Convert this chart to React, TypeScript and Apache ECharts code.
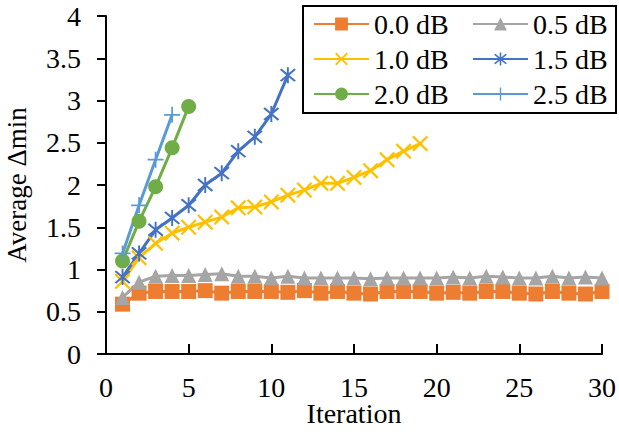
import React, { useEffect, useRef } from "react";
import * as echarts from "echarts";

const iterations = [1, 2, 3, 4, 5, 6, 7, 8, 9, 10, 11, 12, 13, 14, 15, 16, 17, 18, 19, 20, 21, 22, 23, 24, 25, 26, 27, 28, 29, 30];

const db00 = [0.59, 0.72, 0.74, 0.74, 0.74, 0.75, 0.72, 0.74, 0.74, 0.74, 0.73, 0.75, 0.72, 0.74, 0.72, 0.71, 0.74, 0.74, 0.74, 0.72, 0.73, 0.72, 0.74, 0.74, 0.72, 0.71, 0.74, 0.72, 0.71, 0.74];
const db05 = [0.67, 0.85, 0.92, 0.93, 0.93, 0.94, 0.95, 0.92, 0.92, 0.9, 0.92, 0.9, 0.9, 0.9, 0.9, 0.89, 0.9, 0.9, 0.9, 0.9, 0.91, 0.9, 0.92, 0.91, 0.9, 0.9, 0.92, 0.9, 0.91, 0.9];
const db10 = [0.86, 1.14, 1.31, 1.43, 1.5, 1.56, 1.62, 1.73, 1.74, 1.8, 1.88, 1.94, 2.02, 2.02, 2.09, 2.17, 2.3, 2.4, 2.49];
const db15 = [0.91, 1.19, 1.47, 1.61, 1.76, 2.0, 2.14, 2.4, 2.57, 2.84, 3.3];
const db20 = [1.1, 1.57, 1.98, 2.44, 2.93];
const db25 = [1.19, 1.76, 2.3, 2.83];

const seriesNames = ["0.0 dB", "0.5 dB", "1.0 dB", "1.5 dB", "2.0 dB", "2.5 dB"];
const yTicks = [0, 0.5, 1, 1.5, 2, 2.5, 3, 3.5, 4];
const xTicks = [0, 5, 10, 15, 20, 25, 30];

const FONT = "Liberation Serif";
const FS = 28;

const X_PATH = "path://M1,0 L5,4 L9,0 L10,1 L6,5 L10,9 L9,10 L5,6 L1,10 L0,9 L4,5 L0,1 Z";
const PLUS_PATH = "path://M4.45,0 L5.55,0 L5.55,4.45 L10,4.45 L10,5.55 L5.55,5.55 L5.55,10 L4.45,10 L4.45,5.55 L0,5.55 L0,4.45 L4.45,4.45 Z";
const STAR_PATH = "path://M1,0 L5,4 L9,0 L10,1 L6,5 L10,9 L9,10 L5,6 L1,10 L0,9 L4,5 L0,1 Z M4.4,-1 L5.6,-1 L5.6,11 L4.4,11 Z";

function pairs(vals: number[]) {
  return vals.map((v, i) => [iterations[i], v]);
}

export default function App() {
  const ref = useRef<HTMLDivElement>(null);
  useEffect(() => {
    if (!ref.current) return;
    const chart = echarts.init(ref.current, undefined, { renderer: "svg" });
    const mk = (name: string, data: number[], color: string, symbol: string, size: number) => ({
      name,
      type: "line",
      data: pairs(data),
      symbol,
      symbolSize: size,
      showAllSymbol: true,
      lineStyle: { color, width: 3 },
      itemStyle: { color },
      z: 2,
    });
    const legendCommon = {
      orient: "vertical",
      itemWidth: 55,
      itemHeight: 16,
      itemGap: 7,
      textStyle: { fontFamily: FONT, fontSize: FS, color: "#000" },
      padding: 0,
      selectedMode: false,
    };
    chart.setOption({
      animation: false,
      backgroundColor: "#fff",
      grid: { left: 106, right: 17, top: 16, bottom: 78, outerBoundsMode: "none", containLabel: false },
      legend: [
        { ...legendCommon, left: 313, top: 10, data: [seriesNames[0], seriesNames[2], seriesNames[4]] },
        { ...legendCommon, left: 472, top: 10, data: [seriesNames[1], seriesNames[3], seriesNames[5]] },
      ],
      graphic: [
        {
          type: "rect",
          shape: { x: 303, y: 6, width: 313, height: 107 },
          style: { fill: "none", stroke: "#000", lineWidth: 2 },
          z: 0,
        },
      ],
      xAxis: {
        type: "value",
        min: xTicks[0],
        max: xTicks[xTicks.length - 1],
        interval: 5,
        name: "Iteration",
        nameLocation: "middle",
        nameGap: 46,
        nameMoveOverlap: false,
        nameTextStyle: { fontFamily: FONT, fontSize: FS, color: "#000", lineHeight: 26 },
        axisLine: { show: true, lineStyle: { color: "#000", width: 2 } },
        axisTick: { show: true, inside: true, length: 10, lineStyle: { color: "#000", width: 2 } },
        axisLabel: { fontFamily: FONT, fontSize: FS, color: "#000", margin: 21, lineHeight: 24 },
        splitLine: { show: false },
      },
      yAxis: {
        type: "value",
        min: yTicks[0],
        max: yTicks[yTicks.length - 1],
        interval: 0.5,
        name: "Average Δmin",
        nameLocation: "middle",
        nameGap: 76,
        nameMoveOverlap: false,
        nameTextStyle: { fontFamily: FONT, fontSize: 27, color: "#000" },
        axisLine: { show: true, lineStyle: { color: "#000", width: 2 } },
        axisTick: { show: true, inside: false, length: 9, lineStyle: { color: "#000", width: 2 } },
        axisLabel: { fontFamily: FONT, fontSize: FS, color: "#000", margin: 25 },
        splitLine: { show: false },
      },
      series: [
        mk(seriesNames[0], db00, "#ED7D31", "rect", 15),
        mk(seriesNames[1], db05, "#A5A5A5", "triangle", 15),
        mk(seriesNames[2], db10, "#FFC000", X_PATH, 16),
        mk(seriesNames[3], db15, "#4472C4", STAR_PATH, 16),
        mk(seriesNames[4], db20, "#70AD47", "circle", 15),
        mk(seriesNames[5], db25, "#5B9BD5", PLUS_PATH, 16),
      ],
    });
    return () => chart.dispose();
  }, []);
  return <div ref={ref} style={{ width: 619, height: 432, position: "absolute", left: 0, top: 0 }} />;
}
